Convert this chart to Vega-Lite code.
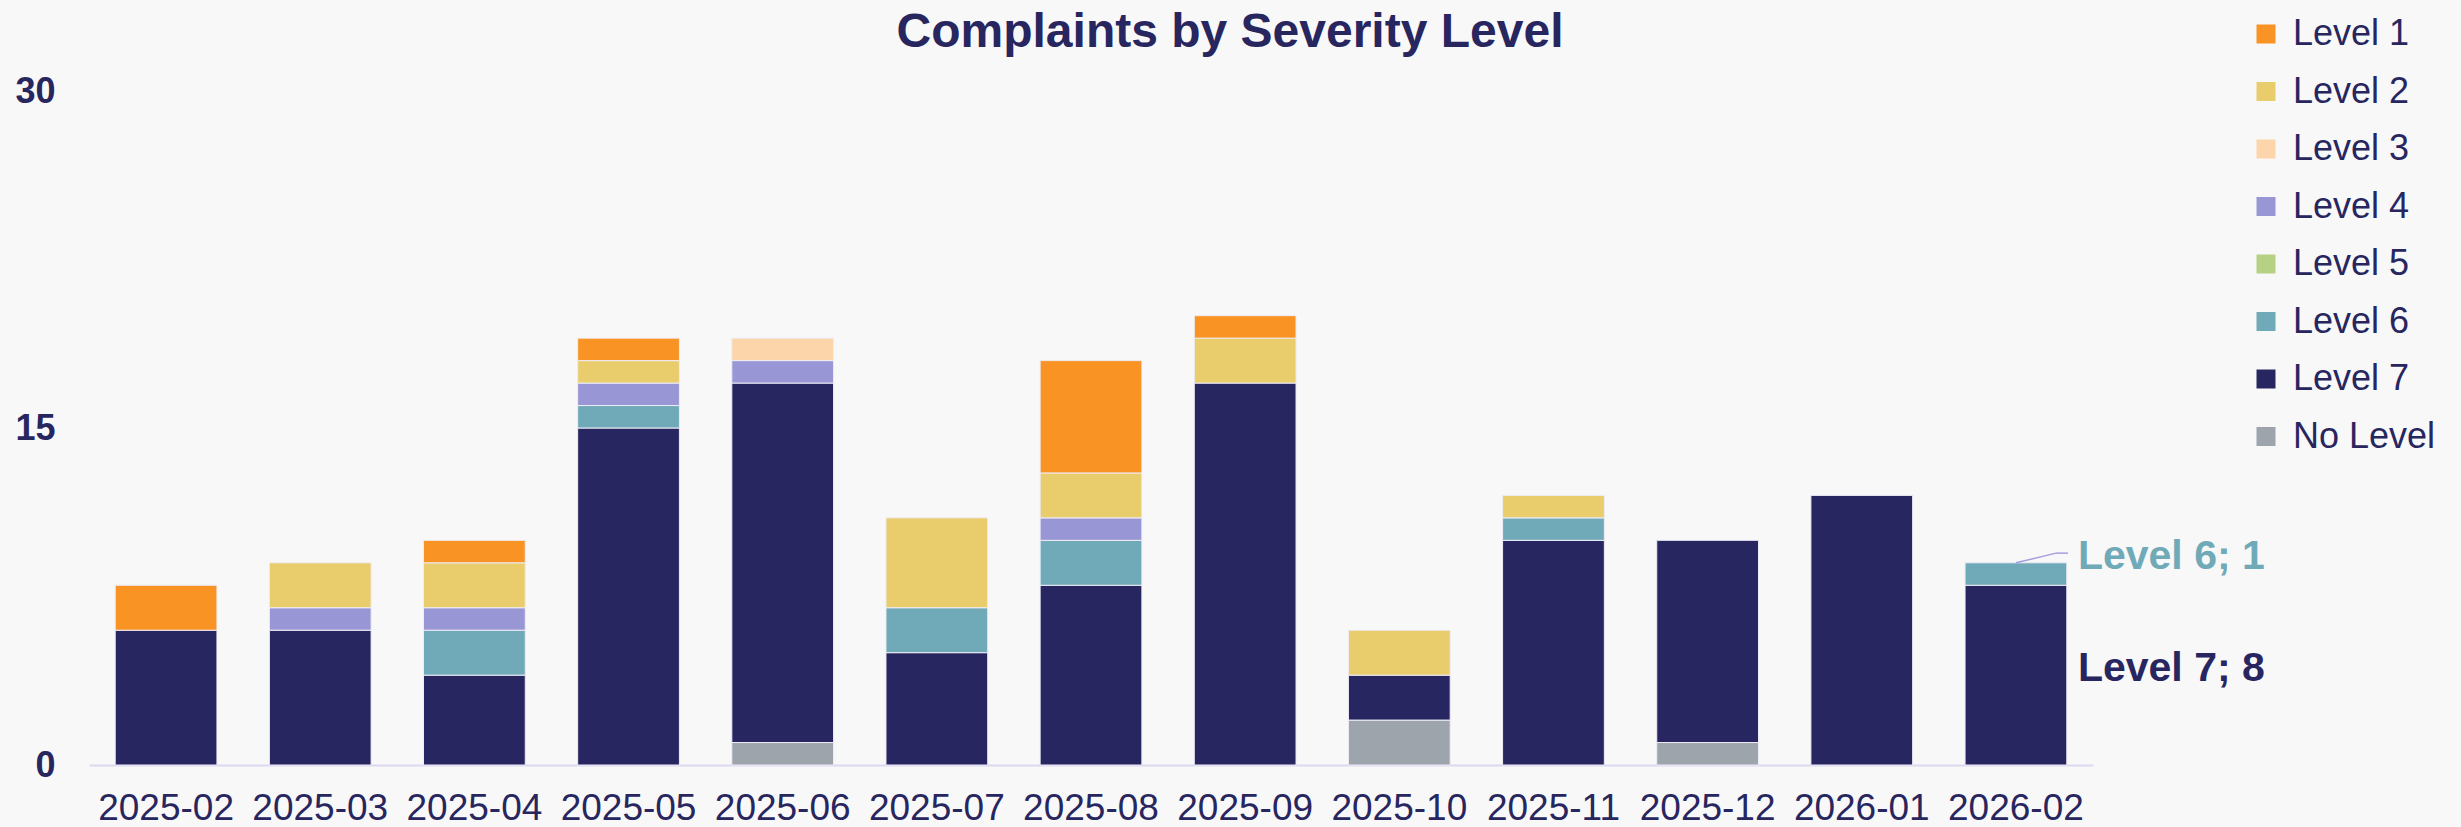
{
  "$schema": "https://vega.github.io/schema/vega-lite/v6.json",
  "autosize": {"type": "none"},
  "width": 2004,
  "height": 674,
  "padding": {"left": 89, "top": 91, "right": 368, "bottom": 62},
  "background": "#f8f8f8",
  "title": {
    "text": "Complaints by Severity Level",
    "anchor": "middle",
    "frame": "group",
    "dx": 139,
    "fontSize": 48,
    "font": "Liberation Sans",
    "fontWeight": "bold",
    "color": "#28265f",
    "offset": -79,
    "baseline": "alphabetic"
  },
  "config": {"view": {"stroke": null}, "font": "Liberation Sans"},
  "datasets": {
    "complaints": [
      {"month": "2025-02", "level": "Level 7", "count": 6},
      {"month": "2025-02", "level": "Level 1", "count": 2},
      {"month": "2025-03", "level": "Level 7", "count": 6},
      {"month": "2025-03", "level": "Level 4", "count": 1},
      {"month": "2025-03", "level": "Level 2", "count": 2},
      {"month": "2025-04", "level": "Level 7", "count": 4},
      {"month": "2025-04", "level": "Level 6", "count": 2},
      {"month": "2025-04", "level": "Level 4", "count": 1},
      {"month": "2025-04", "level": "Level 2", "count": 2},
      {"month": "2025-04", "level": "Level 1", "count": 1},
      {"month": "2025-05", "level": "Level 7", "count": 15},
      {"month": "2025-05", "level": "Level 6", "count": 1},
      {"month": "2025-05", "level": "Level 4", "count": 1},
      {"month": "2025-05", "level": "Level 2", "count": 1},
      {"month": "2025-05", "level": "Level 1", "count": 1},
      {"month": "2025-06", "level": "No Level", "count": 1},
      {"month": "2025-06", "level": "Level 7", "count": 16},
      {"month": "2025-06", "level": "Level 4", "count": 1},
      {"month": "2025-06", "level": "Level 3", "count": 1},
      {"month": "2025-07", "level": "Level 7", "count": 5},
      {"month": "2025-07", "level": "Level 6", "count": 2},
      {"month": "2025-07", "level": "Level 2", "count": 4},
      {"month": "2025-08", "level": "Level 7", "count": 8},
      {"month": "2025-08", "level": "Level 6", "count": 2},
      {"month": "2025-08", "level": "Level 4", "count": 1},
      {"month": "2025-08", "level": "Level 2", "count": 2},
      {"month": "2025-08", "level": "Level 1", "count": 5},
      {"month": "2025-09", "level": "Level 7", "count": 17},
      {"month": "2025-09", "level": "Level 2", "count": 2},
      {"month": "2025-09", "level": "Level 1", "count": 1},
      {"month": "2025-10", "level": "No Level", "count": 2},
      {"month": "2025-10", "level": "Level 7", "count": 2},
      {"month": "2025-10", "level": "Level 2", "count": 2},
      {"month": "2025-11", "level": "Level 7", "count": 10},
      {"month": "2025-11", "level": "Level 6", "count": 1},
      {"month": "2025-11", "level": "Level 2", "count": 1},
      {"month": "2025-12", "level": "No Level", "count": 1},
      {"month": "2025-12", "level": "Level 7", "count": 9},
      {"month": "2026-01", "level": "Level 7", "count": 12},
      {"month": "2026-02", "level": "Level 7", "count": 8},
      {"month": "2026-02", "level": "Level 6", "count": 1}
    ],
    "labels": [
      {"month": "2026-02", "level": "Level 6", "text": "Level 6; 1", "pos": 9},
      {"month": "2026-02", "level": "Level 7", "text": "Level 7; 8", "pos": 4}
    ],
    "leader": [
      {"month": "2026-02", "from": 9, "to": 9.43}
    ]
  },
  "layer": [
    {
      "data": {"name": "complaints"},
      "mark": {"type": "bar", "stroke": "#eeecf6", "strokeWidth": 1},
      "encoding": {
        "x": {
          "field": "month",
          "type": "ordinal",
          "scale": {"paddingInner": 0.34, "paddingOuter": 0.17},
          "axis": {
            "title": null,
            "labelAngle": 0,
            "labelFontSize": 37,
            "labelColor": "#28265f",
            "labelFont": "Liberation Sans",
            "ticks": false,
            "domainColor": "#dcd8f0",
            "domainWidth": 2,
            "labelPadding": 25,
            "grid": false
          }
        },
        "y": {
          "field": "count",
          "type": "quantitative",
          "stack": "zero",
          "scale": {"domain": [0, 30], "nice": false},
          "axis": {
            "title": null,
            "values": [0, 15, 30],
            "labelFontSize": 36,
            "labelFontWeight": "bold",
            "labelColor": "#28265f",
            "labelFont": "Liberation Sans",
            "labelFlush": false,
            "ticks": false,
            "domain": false,
            "grid": false,
            "labelPadding": 34
          }
        },
        "color": {
          "field": "level",
          "type": "nominal",
          "scale": {
            "domain": ["Level 1", "Level 2", "Level 3", "Level 4", "Level 5", "Level 6", "Level 7", "No Level"],
            "range": ["#f99324", "#e9cc6c", "#fdd5aa", "#9896d4", "#b7d184", "#70aab8", "#282661", "#9ea4ac"]
          },
          "legend": {
            "orient": "none",
            "legendX": 2159,
            "legendY": -75,
            "title": null,
            "padding": 0,
            "labelFontSize": 36,
            "labelColor": "#28265f",
            "labelFont": "Liberation Sans",
            "labelLimit": 400,
            "labelOffset": 9,
            "symbolType": "square",
            "symbolSize": 361,
            "symbolStrokeWidth": 0,
            "rowPadding": 21.5
          }
        }
      }
    },
    {
      "data": {"name": "leader"},
      "mark": {"type": "rule", "color": "#a49de0", "strokeWidth": 1.5, "x2Offset": 40},
      "encoding": {
        "x": {"field": "month", "type": "ordinal"},
        "x2": {"field": "month"},
        "y": {"field": "from", "type": "quantitative"},
        "y2": {"field": "to"}
      }
    },
    {
      "data": {"name": "leader"},
      "mark": {"type": "rule", "color": "#a49de0", "strokeWidth": 1.5, "xOffset": 40, "x2Offset": 52},
      "encoding": {
        "x": {"field": "month", "type": "ordinal"},
        "x2": {"field": "month"},
        "y": {"field": "to", "type": "quantitative"}
      }
    },
    {
      "data": {"name": "labels"},
      "mark": {"type": "text", "align": "left", "baseline": "middle", "dx": 62, "dy": -6, "fontSize": 41, "fontWeight": "bold", "font": "Liberation Sans"},
      "encoding": {
        "x": {"field": "month", "type": "ordinal"},
        "y": {"field": "pos", "type": "quantitative"},
        "text": {"field": "text"},
        "color": {"field": "level", "type": "nominal", "legend": null}
      }
    }
  ]
}
